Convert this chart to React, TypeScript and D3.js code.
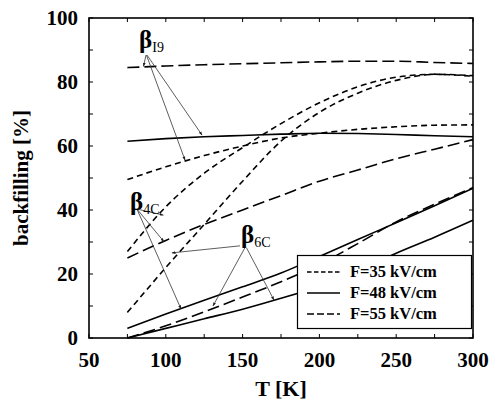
import React from "react";
import * as d3 from "d3";

const temps = [75, 100, 125, 150, 175, 200, 225, 250, 275, 300];
const i9_35 = [49.5, 53.5, 57, 60, 62.5, 64, 65.2, 66, 66.5, 66.6];
const i9_48 = [61.5, 62.3, 62.9, 63.3, 63.7, 64, 63.9, 63.6, 63.2, 62.9];
const i9_55 = [84.5, 85, 85.4, 85.7, 86, 86.3, 86.5, 86.5, 86.1, 85.8];
const c4_35 = [27, 41, 51.5, 59.5, 67, 73.5, 78.5, 81.5, 82.4, 82];
const c4_48 = [3, 7.5, 11.8, 16, 20.3, 25.5, 30.8, 36, 41.3, 46.8];
const c4_55 = [25, 30.5, 35.5, 40, 44.5, 49, 52.5, 56, 59, 62];
const c6_35 = [8, 22, 35.5, 49, 61.5, 70.5, 76.5, 80.5, 82.4, 81.8];
const c6_48 = [0, 3, 6, 9, 12.4, 16.2, 21, 26.5, 31.5, 36.8];
const c6_55 = [0, 3.8, 8.2, 12.8, 17.6, 23, 29.5, 36.3, 41.8, 47];

const xTicks = [50, 75, 100, 125, 150, 175, 200, 225, 250, 275, 300];
const xLabels = [50, 100, 150, 200, 250, 300];
const yTicks = [0, 10, 20, 30, 40, 50, 60, 70, 80, 90, 100];
const yLabels = [0, 20, 40, 60, 80, 100];

const legendLabels = ["F=35 kV/cm", "F=48 kV/cm", "F=55 kV/cm"];

// annotations in data units: label position, arrow origins/targets
const annLabels = [
  { main: "β", sub: "I9", t: 82.6, v: 90.6 },
  { main: "β", sub: "4C", t: 76.7, v: 40 },
  { main: "β", sub: "6C", t: 149, v: 29.7 },
];
const annArrows = [
  { t0: 87.1, v0: 88.4, t1: 85.5, v1: 84.9 },
  { t0: 87.8, v0: 88.4, t1: 123.6, v1: 63.4 },
  { t0: 87.4, v0: 88.4, t1: 112.5, v1: 55.6 },
  { t0: 81.2, v0: 40.3, t1: 98.4, v1: 38.4 },
  { t0: 81.2, v0: 40.3, t1: 98.8, v1: 30.1 },
  { t0: 81.2, v0: 40.3, t1: 109.9, v1: 9.1 },
  { t0: 148.3, v0: 28.8, t1: 104, v1: 26.6 },
  { t0: 151.5, v0: 28.2, t1: 130.7, v1: 10 },
  { t0: 152.5, v0: 28.2, t1: 170.4, v1: 11.9 },
];

const W = 492;
const H = 403;
const M = { left: 89, right: 473, top: 18, bottom: 338 };

const SHORT = "6,4";
const SOLID = "none";
const LONG = "12,5";

export default function App() {
  const x = d3.scaleLinear().domain([50, 300]).range([M.left, M.right]);
  const y = d3.scaleLinear().domain([0, 100]).range([M.bottom, M.top]);
  const line = d3
    .line<[number, number]>()
    .x((d) => x(d[0]))
    .y((d) => y(d[1]))
    .curve(d3.curveMonotoneX);
  const mk = (vals: number[]) => line(temps.map((t, i) => [t, vals[i]] as [number, number])) || "";

  const series = [
    { v: i9_35, dash: SHORT },
    { v: i9_48, dash: SOLID },
    { v: i9_55, dash: LONG },
    { v: c4_35, dash: SHORT },
    { v: c4_48, dash: SOLID },
    { v: c4_55, dash: LONG },
    { v: c6_35, dash: SHORT },
    { v: c6_48, dash: SOLID },
    { v: c6_55, dash: LONG },
  ];

  const font = "'Liberation Serif', 'Times New Roman', serif";
  const tl = 4;
  const legendDash = ["4.5,2.5", "none", "7,3"];

  return (
    <svg width={W} height={H} style={{ position: "absolute", left: 0, top: 0, background: "#fff" }}>
      <defs>
        <marker id="ah" viewBox="0 0 10 10" refX="9" refY="5" markerWidth="5" markerHeight="5" orient="auto">
          <path d="M0,1.5 L10,5 L0,8.5 z" fill="#222" />
        </marker>
      </defs>
      {/* ticks */}
      {xTicks.map((t) => (
        <g key={"xt" + t}>
          <line x1={x(t)} x2={x(t)} y1={M.bottom} y2={M.bottom - tl} stroke="#000" strokeWidth={1} />
          <line x1={x(t)} x2={x(t)} y1={M.top} y2={M.top + tl} stroke="#000" strokeWidth={1} />
        </g>
      ))}
      {yTicks.map((t) => (
        <g key={"yt" + t}>
          <line x1={M.left} x2={M.left + tl} y1={y(t)} y2={y(t)} stroke="#000" strokeWidth={1} />
          <line x1={M.right} x2={M.right - tl} y1={y(t)} y2={y(t)} stroke="#000" strokeWidth={1} />
        </g>
      ))}
      {xLabels.map((t) => (
        <text key={"xl" + t} x={x(t)} y={367} textAnchor="middle" fontFamily={font} fontWeight="bold" fontSize={21}>
          {t}
        </text>
      ))}
      {yLabels.map((t) => (
        <text key={"yl" + t} x={78} y={y(t) + 7} textAnchor="end" fontFamily={font} fontWeight="bold" fontSize={21}>
          {t}
        </text>
      ))}
      <text x={(M.left + M.right) / 2} y={396} textAnchor="middle" fontFamily={font} fontWeight="bold" fontSize={22}>
        T [K]
      </text>
      <text
        transform={`translate(28,${(M.top + M.bottom) / 2}) rotate(-90)`}
        textAnchor="middle"
        fontFamily={font}
        fontWeight="bold"
        fontSize={21}
      >
        backfilling [%]
      </text>

      {/* curves */}
      {series.map((s, i) => (
        <path key={"s" + i} d={mk(s.v)} fill="none" stroke="#000" strokeWidth={1.6} strokeDasharray={s.dash} />
      ))}

      {/* annotations */}
      {annArrows.map((a, i) => (
        <line
          key={"a" + i}
          x1={x(a.t0)}
          y1={y(a.v0)}
          x2={x(a.t1)}
          y2={y(a.v1)}
          stroke="#333"
          strokeWidth={0.8}
          markerEnd="url(#ah)"
        />
      ))}
      {annLabels.map((l, i) => (
        <text key={"l" + i} x={x(l.t)} y={y(l.v)} fontFamily={font} fontSize={25} fontWeight="bold">
          {l.main}
          <tspan fontSize={14} dy={4} fontWeight="normal">
            {l.sub}
          </tspan>
        </text>
      ))}

      {/* legend */}
      <rect x={297.5} y={255.5} width={174} height={73} fill="#fff" stroke="#000" strokeWidth={1.2} />
      {legendLabels.map((lab, i) => (
        <g key={"lg" + i}>
          <line x1={307} x2={340} y1={272 + i * 21} y2={272 + i * 21} stroke="#000" strokeWidth={1.6} strokeDasharray={legendDash[i]} />
          <text x={350} y={277 + i * 21} fontFamily={font} fontWeight="bold" fontSize={16.5}>
            {lab}
          </text>
        </g>
      ))}

      {/* frame */}
      <rect x={M.left} y={M.top} width={M.right - M.left} height={M.bottom - M.top} fill="none" stroke="#000" strokeWidth={1.6} />
    </svg>
  );
}
